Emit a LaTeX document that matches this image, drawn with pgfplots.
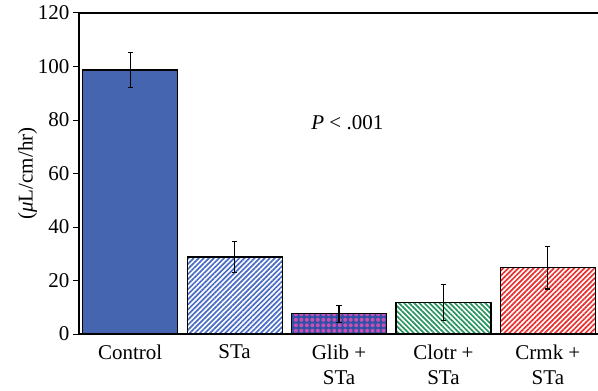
\documentclass[border=0pt]{standalone}
\usepackage{fontspec}
\setmainfont{Liberation Serif}
\usepackage{pgfplots}
\pgfplotsset{compat=1.18}
\usetikzlibrary{patterns.meta}
\definecolor{cblue}{HTML}{4565B0}
\definecolor{sblue}{HTML}{4A6CC4}
\definecolor{gblue}{HTML}{3050A8}
\definecolor{gmag}{HTML}{C850B0}
\definecolor{cgreen}{HTML}{2A9460}
\definecolor{cred}{HTML}{E8302E}
\begin{document}
\begin{tikzpicture}
\begin{axis}[
  at={(0,0)}, anchor=south west,
  scale only axis, width=519bp, height=321bp,
  ymin=0, ymax=120, ytick={0,20,...,120},
  xmin=-0.49, xmax=4.48,
  xtick={0,1,2,3,4},
  xticklabels={Control, STa, {Glib +\\STa}, {Clotr +\\STa}, {Crmk +\\STa}},
  xticklabel style={align=center, font=\fontsize{21bp}{25bp}\selectfont, yshift=-1bp},
  yticklabel style={font=\fontsize{21bp}{25bp}\selectfont},
  /pgf/number format/assume math mode=true,
  axis x line*=bottom, axis y line*=left,
  axis line style={line width=1.1pt},
  x axis line style={-}, y axis line style={-},
  major x tick style={draw=none},
  ytick style={black, line width=1pt},
  tick align=outside, major tick length=6bp,
  ylabel={(\textit{μ}L/cm/hr)},
  ylabel style={font=\fontsize{21bp}{25bp}\selectfont},
  ylabel shift=-6bp,
  ybar, bar width=95bp, bar shift=0pt,
  error bars/y dir=both, error bars/y explicit,
  error bars/error bar style={black, line width=1.2pt},
  error bars/error mark options={black, line width=1.2pt, rotate=90, mark size=2.6bp},
  clip=false,
]
\addplot[draw=black, line width=1.1pt, fill=cblue] coordinates {(0,98.7) +- (0,6.5)};
\addplot[draw=black, line width=1.1pt, pattern={Lines[angle=45,distance=3.6pt,line width=1.7pt]}, pattern color=sblue] coordinates {(1,28.8) +- (0,5.8)};
\addplot[draw=black, line width=1.1pt, fill=gblue, postaction={pattern={Dots[radius=2pt,distance=5.5pt]}, pattern color=gmag}] coordinates {(2,7.5) +- (0,3.1)};
\addplot[draw=black, line width=1.1pt, pattern={Lines[angle=-45,distance=3.6pt,line width=1.7pt]}, pattern color=cgreen] coordinates {(3,11.7) +- (0,6.7)};
\addplot[draw=black, line width=1.1pt, pattern={Lines[angle=45,distance=3.6pt,line width=1.7pt]}, pattern color=cred] coordinates {(4,24.8) +- (0,8.0)};
\draw[line width=1.1pt] (rel axis cs:0,1) -- (rel axis cs:1,1);
\node[font=\fontsize{21bp}{25bp}\selectfont] at (axis cs:2.08,79) {\textit{P} < .001};
\end{axis}
\pgfresetboundingbox
\path[use as bounding box] (-79bp,-57bp) rectangle (519bp,334bp);
\end{tikzpicture}
\end{document}
